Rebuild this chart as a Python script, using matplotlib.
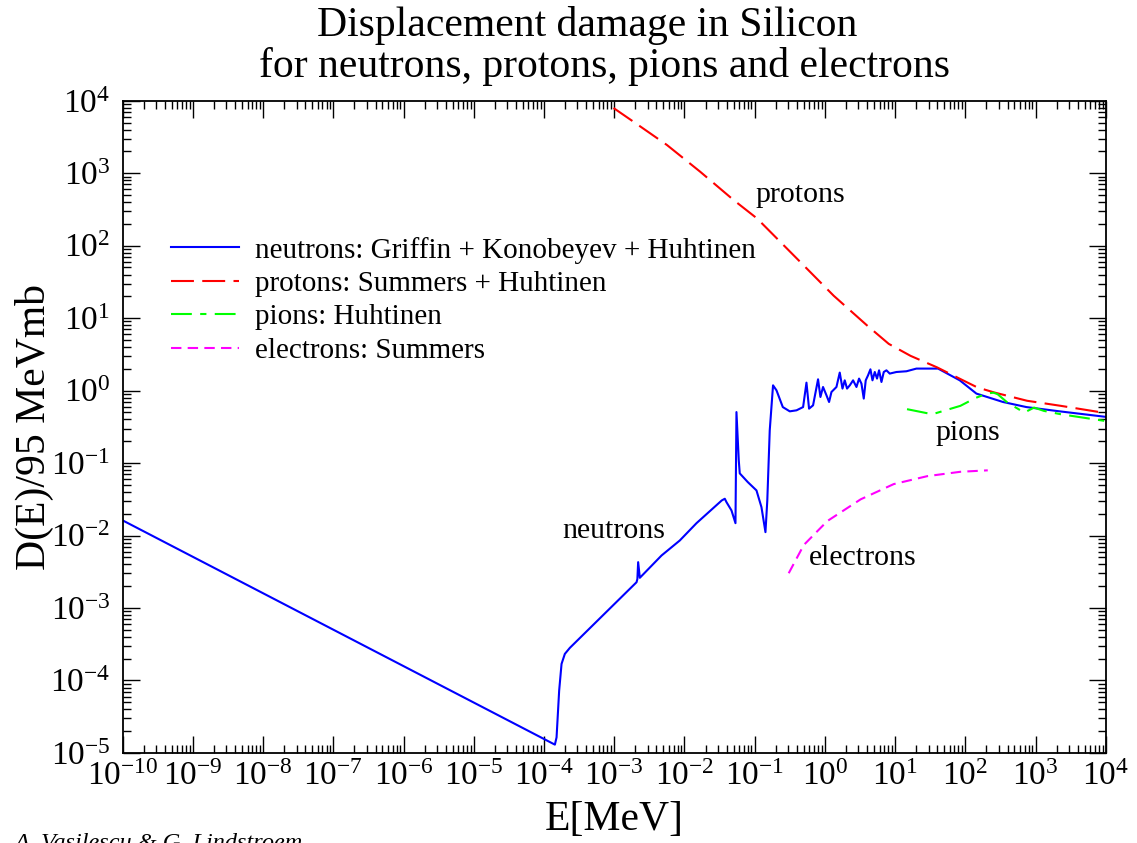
import numpy as np
import matplotlib
matplotlib.use("Agg")
import matplotlib.pyplot as plt
from matplotlib.ticker import LogLocator, NullFormatter

# =========================
# DATA (log10 of E[MeV] and log10 of D(E)/95 MeVmb)
# =========================

neutron_logE = [-10.0, -3.845, -3.821, -3.784, -3.75, -3.703, -3.632, -2.682, -2.67, -2.659,
                -2.635, -2.326, -2.066, -1.828, -1.468, -1.425, -1.401, -1.33, -1.273, -1.259,
                -1.226, -1.212, -1.098, -0.974, -0.903, -0.846, -0.82, -0.785, -0.738, -0.689,
                -0.599, -0.5, -0.404, -0.31, -0.262, -0.225, -0.168, -0.097, -0.063, -0.026,
                0.023, 0.06, 0.094, 0.165, 0.212, 0.251, 0.283, 0.316, 0.355, 0.402,
                0.45, 0.487, 0.521, 0.554, 0.582, 0.615, 0.649, 0.678, 0.711, 0.743,
                0.772, 0.806, 0.839, 0.877, 0.924, 1.019, 1.162, 1.304, 1.493, 1.612,
                1.921, 2.158, 2.537, 2.87, 3.344, 4.0]
neutron_logD = [-1.791, -4.885, -4.785, -4.14, -3.771, -3.633, -3.55, -2.644, -2.6, -2.367,
                -2.583, -2.275, -2.068, -1.829, -1.515, -1.492, -1.539, -1.653, -1.829, -0.296,
                -0.963, -1.142, -1.262, -1.377, -1.608, -1.953, -1.52, -0.548, 0.073, 0.004,
                -0.227, -0.286, -0.272, -0.227, 0.11, -0.249, -0.203, 0.156, -0.088, 0.05,
                -0.065, -0.157, -0.019, 0.05, 0.249, 0.028, 0.142, 0.028, 0.073, 0.142,
                0.05, 0.166, 0.097, -0.11, 0.142, 0.211, 0.294, 0.142, 0.257, 0.166,
                0.28, 0.119, 0.257, 0.28, 0.235, 0.257, 0.267, 0.304, 0.304, 0.304,
                0.142, -0.041, -0.157, -0.227, -0.286, -0.362]

proton_logE = [-3.01, -2.725, -2.25, -1.775, -1.30, -0.965, -0.35, 0.125, 0.60, 0.91,
               1.22, 1.60, 1.93, 2.17, 2.41, 2.88, 3.36, 4.0]
proton_logD = [3.90, 3.71, 3.39, 3.02, 2.63, 2.375, 1.775, 1.31, 0.90, 0.645,
               0.48, 0.32, 0.16, 0.045, -0.025, -0.14, -0.21, -0.31]

pion_logE = [1.17, 1.53, 1.93, 2.15, 2.31, 2.40, 2.46, 2.60, 2.84, 2.98, 3.12, 3.36, 4.0]
pion_logD = [-0.256, -0.326, -0.21, -0.10, -0.04, -0.028, -0.049, -0.165, -0.303, -0.234,
             -0.28, -0.326, -0.42]

electron_logE = [-0.515, -0.30, 0.035, 0.51, 0.98, 1.46, 1.93, 2.32]
electron_logD = [-2.52, -2.13, -1.80, -1.50, -1.29, -1.18, -1.12, -1.10]

legend_labels = ["neutrons: Griffin + Konobeyev + Huhtinen",
                 "protons: Summers + Huhtinen",
                 "pions: Huhtinen",
                 "electrons: Summers"]

# =========================
# STYLE
# =========================

plt.rcParams["font.family"] = ["Liberation Serif", "DejaVu Serif"]
plt.rcParams["mathtext.fontset"] = "custom"
plt.rcParams["mathtext.rm"] = "Liberation Serif"
plt.rcParams["mathtext.it"] = "Liberation Serif:italic"
plt.rcParams["axes.unicode_minus"] = False

fig = plt.figure(figsize=(11.37, 8.43), dpi=100)
ax = fig.add_axes([0.1079, 0.1068, 0.8646, 0.7737])

lw = 1.5
ax.plot(10 ** np.array(neutron_logE), 10 ** np.array(neutron_logD),
        color="#0000ff", lw=lw, label=legend_labels[0])
ax.plot(10 ** np.array(proton_logE), 10 ** np.array(proton_logD),
        color="#ff0000", lw=lw, dashes=(11, 4), label=legend_labels[1])
ax.plot(10 ** np.array(pion_logE), 10 ** np.array(pion_logD),
        color="#00ff00", lw=lw, dashes=(10, 4, 3, 4), label=legend_labels[2])
ax.plot(10 ** np.array(electron_logE), 10 ** np.array(electron_logD),
        color="#ff00ff", lw=lw, dashes=(5, 3), label=legend_labels[3])

ax.set_xscale("log")
ax.set_yscale("log")
ax.set_xlim(1e-10, 1e4)
ax.set_ylim(1e-5, 1e4)

ax.xaxis.set_major_locator(LogLocator(base=10, numticks=30))
ax.xaxis.set_minor_locator(LogLocator(base=10, subs=np.arange(2, 10), numticks=300))
ax.yaxis.set_major_locator(LogLocator(base=10, numticks=30))
ax.yaxis.set_minor_locator(LogLocator(base=10, subs=np.arange(2, 10), numticks=300))
ax.xaxis.set_minor_formatter(NullFormatter())
ax.yaxis.set_minor_formatter(NullFormatter())

ax.tick_params(which="both", direction="in", top=True, right=True, width=1.0)
ax.tick_params(which="major", length=12.5, labelsize=24)
ax.tick_params(which="minor", length=6)
ax.tick_params(axis="x", which="major", pad=6)
ax.tick_params(axis="y", which="major", pad=9)
for s in ax.spines.values():
    s.set_linewidth(1.3)

ax.set_xlabel("E[MeV]", fontsize=30, labelpad=6)
ax.set_ylabel("D(E)/95 MeVmb", fontsize=30, labelpad=-3)

# curve annotations
ax.text(10 ** -0.35, 10 ** 2.7, "protons", fontsize=21.5, ha="center", va="center")
ax.text(10 ** 2.03, 10 ** -0.585, "pions", fontsize=21.5, ha="center", va="center")
ax.text(10 ** -3.0, 10 ** -1.94, "neutrons", fontsize=21.5, ha="center", va="center")
ax.text(10 ** 0.536, 10 ** -2.316, "electrons", fontsize=21.5, ha="center", va="center")

ax.legend(loc="upper left", bbox_to_anchor=(0.028, 0.823), frameon=False,
          fontsize=21, handlelength=2.33, handletextpad=0.58, labelspacing=0.24,
          borderpad=0.2)

# title, two lines
fig.text(0.516, 0.957, "Displacement damage in Silicon", fontsize=30,
         ha="center", va="baseline")
fig.text(0.532, 0.909, "for neutrons, protons, pions and electrons", fontsize=30,
         ha="center", va="baseline")

fig.text(0.013, -0.007, "A. Vasilescu & G. Lindstroem", fontsize=17.5,
         style="italic", ha="left", va="baseline")

fig.savefig("out.png", dpi=100)
